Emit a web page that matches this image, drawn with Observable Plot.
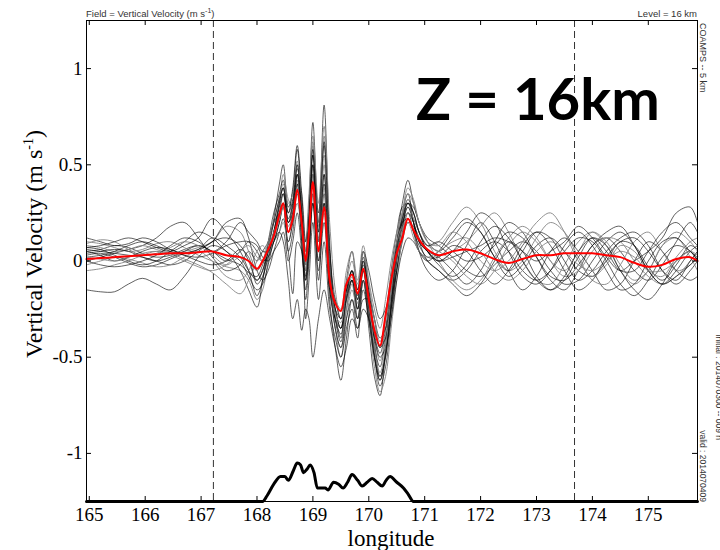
<!DOCTYPE html>
<html><head><meta charset="utf-8">
<script src="https://cdn.jsdelivr.net/npm/d3@7"></script>
<script src="https://cdn.jsdelivr.net/npm/@observablehq/plot@0.6"></script>
<style>
body{margin:0;background:#fff}
#chart{position:relative;width:720px;height:550px;overflow:hidden;background:#fff}
</style>
</head><body><div id="chart"></div>
<script>
// longitude grid shared by all series
const lon = [
  164.95, 165.2, 165.45, 165.7, 165.95, 166.2, 166.45, 166.7, 166.95, 167.2, 167.45, 167.7,
  167.85, 168.0, 168.1, 168.2, 168.3, 168.4, 168.47, 168.56, 168.64, 168.72, 168.8, 168.87, 168.93, 169.0, 169.1, 169.2, 169.3, 169.4, 169.5, 169.6, 169.7, 169.8, 169.9, 170.0, 170.1, 170.2, 170.3, 170.4, 170.5, 170.6, 170.7, 170.8, 170.9, 171.05,
  171.25, 171.5, 171.75, 172.0, 172.25, 172.5, 172.75, 173.0, 173.25, 173.5, 173.75, 174.0, 174.25, 174.5, 174.75, 175.0, 175.25, 175.5, 175.75, 175.88
];
// ensemble members (vertical velocity, m/s)
const m01 = [0.05,0.06,0.08,0.07,0.04,0.02,0.03,0.06,0.08,0.05,0.01,-0.02,
  -0.06,-0.08,-0.02,0.08,0.22,0.4,0.5,0.28,0.36,0.58,0.3,0.05,0.3,0.72,0.2,0.81,0.1,-0.3,-0.42,-0.25,-0.1,-0.3,-0.1,-0.35,-0.6,-0.7,-0.45,-0.15,0.1,0.3,0.42,0.3,0.2,0.1,
  0.05,0.12,0.2,0.15,0.02,-0.08,-0.02,0.08,0.12,0.05,-0.05,-0.08,0.0,0.1,0.08,-0.03,-0.1,-0.02,0.08,0.06];
const m02 = [0.1,0.09,0.07,0.05,0.06,0.09,0.1,0.07,0.03,0.0,-0.03,-0.05,
  -0.1,-0.2,-0.15,0.0,0.15,0.3,0.38,0.2,0.3,0.5,0.25,-0.05,0.2,0.6,0.15,0.55,-0.05,-0.35,-0.5,-0.3,-0.15,-0.25,0.0,-0.25,-0.5,-0.6,-0.5,-0.25,0.0,0.2,0.3,0.25,0.15,0.05,
  0.0,0.05,0.1,0.18,0.25,0.15,0.0,-0.1,-0.12,-0.02,0.1,0.15,0.08,-0.05,-0.12,-0.05,0.08,0.15,0.1,0.05];
const m03 = [-0.15,-0.16,-0.16,-0.12,-0.09,-0.12,-0.15,-0.08,0.02,0.08,0.05,-0.05,
  -0.15,-0.24,-0.1,0.05,0.1,0.2,0.3,0.05,0.15,0.4,0.1,-0.2,0.0,0.35,-0.1,0.3,-0.2,-0.45,-0.62,-0.4,-0.2,-0.35,-0.15,-0.3,-0.45,-0.55,-0.4,-0.2,0.05,0.25,0.35,0.2,0.05,-0.05,
  -0.1,-0.05,0.08,0.2,0.1,-0.05,-0.15,-0.08,0.05,0.12,0.05,-0.05,-0.15,-0.12,0.0,0.1,0.05,-0.05,-0.1,-0.08];
const m04 = [0.0,0.02,0.04,0.06,0.08,0.12,0.18,0.2,0.12,0.02,-0.05,-0.02,
  0.05,0.0,0.05,0.1,0.2,0.25,0.3,0.15,0.25,0.4,0.2,-0.1,0.1,0.45,0.05,0.35,-0.15,-0.3,-0.35,-0.1,0.05,-0.15,0.05,-0.15,-0.35,-0.45,-0.3,-0.05,0.15,0.28,0.3,0.2,0.1,0.05,
  0.02,-0.05,-0.12,-0.05,0.1,0.2,0.15,0.02,-0.1,-0.15,-0.05,0.08,0.12,0.05,-0.05,-0.1,-0.02,0.1,0.2,0.15];
const m05 = [0.08,0.07,0.05,0.06,0.08,0.06,0.04,0.05,0.07,0.1,0.18,0.15,
  0.05,-0.05,0.0,0.05,0.12,0.3,0.45,0.32,0.28,0.45,0.35,0.1,0.35,0.65,0.3,0.7,0.2,-0.15,-0.3,-0.2,-0.05,-0.2,0.0,-0.2,-0.4,-0.52,-0.38,-0.12,0.08,0.2,0.28,0.22,0.15,0.08,
  0.1,0.2,0.28,0.2,0.05,-0.05,0.0,0.12,0.2,0.15,0.02,-0.1,-0.12,-0.02,0.1,0.15,0.05,-0.05,-0.02,0.02];
const m06 = [0.03,0.04,0.02,-0.01,-0.03,-0.02,0.01,0.04,0.06,0.1,0.2,0.22,
  0.12,-0.05,-0.1,-0.05,0.05,0.15,0.22,0.05,-0.17,0.1,0.05,-0.3,-0.1,0.2,-0.2,0.1,-0.25,-0.4,-0.5,-0.35,-0.25,-0.4,-0.2,-0.2,-0.3,-0.4,-0.35,-0.2,-0.05,0.1,0.2,0.18,0.1,0.0,
  -0.05,-0.1,-0.05,0.05,0.1,0.05,-0.05,-0.1,-0.05,0.05,0.12,0.1,0.0,-0.12,-0.18,-0.1,0.02,0.08,0.05,0.0];
const m07 = [0.06,0.05,0.04,0.03,0.02,0.0,-0.02,0.0,0.05,0.1,0.12,0.08,
  0.0,-0.1,-0.05,0.05,0.15,0.28,0.35,0.22,0.3,0.48,0.3,0.0,0.25,0.55,0.1,0.45,0.0,-0.25,-0.35,-0.15,-0.05,-0.25,-0.05,-0.3,-0.5,-0.65,-0.55,-0.3,-0.05,0.15,0.3,0.28,0.2,0.12,
  0.08,0.02,-0.05,-0.08,-0.02,0.05,0.1,0.05,-0.05,-0.12,-0.1,0.0,0.1,0.15,0.08,-0.05,-0.12,-0.05,0.05,0.08];
const m08 = [-0.05,-0.04,-0.02,0.0,0.03,0.05,0.04,0.01,-0.02,-0.06,-0.12,-0.17,
  -0.1,0.0,0.05,0.05,0.1,0.15,0.2,0.1,0.2,0.3,0.15,-0.05,0.15,0.4,0.0,0.25,-0.1,-0.2,-0.25,-0.05,0.05,-0.1,0.08,-0.1,-0.25,-0.35,-0.2,0.0,0.15,0.25,0.35,0.3,0.2,0.1,
  0.0,-0.1,-0.15,-0.1,0.02,0.12,0.18,0.12,0.0,-0.08,-0.05,0.05,0.12,0.1,0.0,-0.08,-0.12,-0.08,0.0,0.05];
const m09 = [0.12,0.1,0.08,0.09,0.12,0.1,0.06,0.04,0.06,0.12,0.08,0.02,
  -0.05,-0.1,-0.05,0.1,0.25,0.35,0.42,0.25,0.38,0.6,0.35,0.1,0.25,0.55,0.25,0.6,0.05,-0.2,-0.3,-0.15,-0.1,-0.2,-0.02,-0.2,-0.42,-0.6,-0.48,-0.2,0.05,0.2,0.25,0.15,0.05,0.0,
  0.05,0.15,0.22,0.15,0.02,-0.05,0.05,0.15,0.12,0.0,-0.1,-0.05,0.05,0.12,0.15,0.08,-0.05,-0.12,-0.05,0.0];
const m10 = [0.02,0.03,0.05,0.08,0.1,0.08,0.05,0.03,0.02,0.04,0.08,0.1,
  0.1,0.05,0.0,0.02,0.1,0.2,0.28,0.1,0.2,0.35,0.1,-0.15,0.05,0.3,-0.05,0.2,-0.15,-0.3,-0.4,-0.2,-0.1,-0.2,0.0,-0.15,-0.3,-0.45,-0.4,-0.25,-0.05,0.12,0.25,0.2,0.1,0.05,
  0.0,0.02,0.05,0.08,0.12,0.1,0.05,0.0,0.05,0.1,0.18,0.12,0.02,-0.05,0.0,0.05,0.12,0.25,0.28,0.2];
const m11 = [-0.02,0.0,0.02,0.01,-0.01,-0.03,-0.02,0.02,0.05,0.0,-0.08,-0.1,
  -0.05,0.05,0.08,0.05,0.12,0.22,0.3,0.18,0.25,0.42,0.2,-0.05,0.15,0.45,0.12,0.5,-0.05,-0.35,-0.45,-0.25,-0.12,-0.3,-0.1,-0.28,-0.55,-0.68,-0.6,-0.35,-0.1,0.12,0.25,0.22,0.15,0.08,
  0.05,0.0,-0.08,-0.12,-0.05,0.08,0.15,0.1,0.0,-0.05,0.05,0.15,0.1,-0.02,-0.1,-0.05,0.08,0.12,0.02,-0.05];
const m12 = [0.07,0.06,0.03,0.0,-0.02,0.0,0.05,0.1,0.15,0.12,0.05,0.0,
  -0.08,-0.15,-0.12,-0.02,0.1,0.15,0.1,-0.1,-0.3,-0.2,-0.36,-0.25,-0.3,-0.5,-0.3,-0.15,-0.3,-0.45,-0.55,-0.45,-0.3,-0.35,-0.25,-0.3,-0.4,-0.5,-0.45,-0.3,-0.1,0.05,0.12,0.1,0.05,0.0,
  -0.05,-0.12,-0.18,-0.12,0.0,0.1,0.05,-0.08,-0.15,-0.1,0.02,0.12,0.08,-0.05,-0.15,-0.2,-0.12,0.0,0.05,0.0];
const m13 = [0.04,0.05,0.06,0.05,0.02,0.0,0.02,0.05,0.08,0.05,0.0,0.05,
  0.1,0.08,0.02,0.0,0.05,0.1,0.15,0.0,0.1,0.25,0.05,-0.1,0.05,0.3,0.0,0.3,-0.1,-0.25,-0.3,-0.15,-0.05,-0.15,0.05,-0.05,-0.2,-0.3,-0.25,-0.1,0.08,0.2,0.22,0.15,0.08,0.02,
  0.02,0.08,0.05,-0.05,-0.12,-0.05,0.08,0.15,0.08,-0.05,-0.15,-0.1,0.02,0.1,0.12,0.05,-0.05,-0.1,0.0,0.05];
const m14 = [0.09,0.11,0.1,0.06,0.03,0.04,0.07,0.1,0.08,0.03,-0.02,0.02,
  0.0,-0.05,0.0,0.1,0.2,0.33,0.4,0.3,0.35,0.52,0.28,0.05,0.3,0.62,0.18,0.65,0.0,-0.28,-0.4,-0.2,-0.08,-0.22,-0.05,-0.22,-0.45,-0.58,-0.45,-0.18,0.05,0.25,0.38,0.32,0.2,0.1,
  0.08,0.15,0.1,0.0,-0.05,0.0,0.1,0.2,0.25,0.15,0.0,-0.08,-0.02,0.08,0.05,-0.05,-0.08,0.02,0.1,0.12];
const m15 = [0.0,-0.02,-0.03,-0.02,0.0,0.03,0.08,0.12,0.1,0.05,0.1,0.2,
  0.15,0.1,0.05,0.05,0.15,0.25,0.35,0.2,0.28,0.45,0.25,0.02,0.2,0.5,0.1,0.4,-0.05,-0.3,-0.38,-0.18,-0.05,-0.18,0.02,-0.18,-0.38,-0.48,-0.35,-0.1,0.1,0.22,0.3,0.25,0.15,0.05,
  -0.02,-0.08,-0.02,0.1,0.18,0.12,0.0,-0.1,-0.15,-0.08,0.05,0.12,0.05,-0.05,-0.05,0.05,0.15,0.2,0.12,0.08];
const m16 = [0.05,0.03,0.0,0.02,0.05,0.07,0.06,0.03,0.0,-0.02,0.0,0.06,
  0.02,-0.12,-0.08,0.02,0.15,0.3,0.38,0.25,0.32,0.5,0.25,-0.02,0.22,0.58,0.15,0.62,0.05,-0.25,-0.35,-0.2,-0.1,-0.25,-0.05,-0.25,-0.48,-0.62,-0.5,-0.22,0.05,0.22,0.32,0.25,0.15,0.08,
  0.1,0.05,0.0,0.02,0.08,0.15,0.12,0.02,-0.08,-0.1,-0.02,0.08,0.15,0.18,0.08,-0.05,-0.12,-0.08,-0.02,0.02];
const m17 = [0.02,0.01,0.0,0.02,0.04,0.05,0.03,0.0,-0.03,-0.05,-0.02,0.05,
  0.08,0.02,0.0,0.05,0.15,0.22,0.28,0.15,0.22,0.38,0.18,-0.02,0.15,0.42,0.1,0.38,-0.08,-0.28,-0.32,-0.12,0.0,-0.12,0.05,-0.12,-0.3,-0.42,-0.3,-0.08,0.1,0.18,0.2,0.12,0.05,0.02,
  0.05,0.1,0.12,0.05,-0.05,-0.1,-0.05,0.05,0.1,0.05,-0.02,-0.05,0.0,0.05,0.02,-0.05,-0.05,0.0,0.05,0.03];
const m18 = [0.07,0.08,0.1,0.12,0.1,0.07,0.05,0.08,0.12,0.22,0.15,0.05,
  -0.05,-0.18,-0.1,0.05,0.2,0.32,0.38,0.2,0.25,0.45,0.2,-0.08,0.1,0.5,0.05,0.45,-0.1,-0.35,-0.45,-0.3,-0.2,-0.3,-0.1,-0.3,-0.5,-0.62,-0.48,-0.25,0.0,0.18,0.28,0.2,0.12,0.05,
  0.0,0.05,0.15,0.25,0.2,0.05,-0.08,-0.12,-0.05,0.08,0.15,0.08,-0.05,-0.15,-0.12,0.0,0.1,0.12,0.05,0.02];
// ensemble mean (red)
const meanW = [0.01,0.015,0.02,0.025,0.03,0.035,0.04,0.04,0.045,0.05,0.03,0.02,
  0.0,-0.04,0.0,0.06,0.13,0.24,0.30,0.15,0.22,0.37,0.2,0.0,0.15,0.41,0.05,0.28,-0.1,-0.22,-0.26,-0.12,-0.07,-0.17,-0.04,-0.2,-0.36,-0.44,-0.28,-0.1,0.04,0.12,0.22,0.16,0.11,0.06,
  0.03,0.05,0.06,0.04,0.01,-0.01,0.01,0.03,0.03,0.04,0.04,0.04,0.03,0.02,-0.01,-0.03,-0.02,0.01,0.02,0.0];
// terrain profile (drawn on the velocity axis)
const terrLon = [164.95,168.1,168.18,168.3,168.42,168.5,168.56,168.65,168.72,168.78,168.83,168.9,168.95,169.02,169.08,169.15,169.22,169.27,169.37,169.46,169.54,169.62,169.7,169.8,169.88,169.97,170.06,170.15,170.24,170.31,170.38,170.5,170.62,170.7,170.8,175.88];
const terrW = [-1.25,-1.25,-1.22,-1.16,-1.12,-1.12,-1.14,-1.09,-1.05,-1.06,-1.1,-1.08,-1.06,-1.1,-1.18,-1.18,-1.18,-1.19,-1.15,-1.16,-1.18,-1.15,-1.11,-1.14,-1.17,-1.15,-1.13,-1.15,-1.17,-1.14,-1.12,-1.15,-1.18,-1.21,-1.25,-1.25];
const dashedLon = [167.22, 173.68];
const xTicks = [165,166,167,168,169,170,171,172,173,174,175];
const yTicks = [-1,-0.5,0,0.5,1];

const members = [m01,m02,m03,m04,m05,m06,m07,m08,m09,m10,m11,m12,m13,m14,m15,m16,m17,m18];
members.forEach((m,i)=>{ if (m.length !== lon.length) throw new Error("member "+(i+1)+" has "+m.length); });
if (meanW.length !== lon.length) throw new Error("mean length");
const memberRows = members.flatMap((vals,k)=>vals.map((w,i)=>({k, lon: lon[i], w})));
const meanRows = meanW.map((w,i)=>({lon: lon[i], w}));
const terrRows = terrLon.map((x,i)=>({lon: x, w: terrW[i]}));

const W = 720, H = 550, mL = 86, mR = 23, mT = 20, mB = 49;
const iw = W - mL - mR, ih = H - mT - mB, tk = 5;

const chart = Plot.plot({
  width: W, height: H,
  marginLeft: mL, marginRight: mR, marginTop: mT, marginBottom: mB,
  style: {fontFamily: "'Liberation Serif', 'Times New Roman', serif", background: "#fff", color: "#000"},
  x: {domain: [164.95, 175.88]},
  y: {domain: [-1.25, 1.25]},
  marks: [
    Plot.ruleX(dashedLon, {x: d=>d, stroke: "#333", strokeDasharray: "7,4", strokeWidth: 1}),
    Plot.line(memberRows, {x: "lon", y: "w", z: "k",
      stroke: d => (d.k % 3 === 1 ? "#858585" : "#000"),
      strokeOpacity: d => (d.k % 3 === 1 ? 0.9 : 0.62),
      strokeWidth: 1, curve: "catmull-rom"}),
    Plot.line(meanRows, {x: "lon", y: "w", stroke: "#ff0000", strokeWidth: 2, curve: "catmull-rom"}),
    Plot.line(terrRows, {x: "lon", y: "w", stroke: "#000", strokeWidth: 3, strokeLinejoin: "round", curve: "monotone-x"}),
    Plot.frame({stroke: "#000", strokeWidth: 1}),
    Plot.tickX(xTicks, {x: d=>d, insetTop: ih - tk, stroke: "#000"}),
    Plot.tickX(xTicks, {x: d=>d, insetBottom: ih - tk, stroke: "#000"}),
    Plot.tickY(yTicks, {y: d=>d, insetRight: iw - tk, stroke: "#000"}),
    Plot.tickY(yTicks, {y: d=>d, insetLeft: iw - tk, stroke: "#000"}),
    Plot.axisX(xTicks, {tickSize: 0, tickPadding: 6, fontSize: 19, label: null, tickFormat: d => String(d)}),
    Plot.axisY(yTicks, {tickSize: 0, tickPadding: 4, fontSize: 19, label: null, tickFormat: d => String(d)})
  ]
});
document.getElementById("chart").appendChild(chart);

const svg = d3.select(chart);
const serif = "'Liberation Serif', 'Times New Roman', serif";
const sans = "'Liberation Sans', Arial, sans-serif";

// x-axis title
svg.append("text").attr("x", 391).attr("y", 546).attr("text-anchor", "middle")
  .style("font-family", serif).style("font-size", "23px").attr("fill", "#000").text("longitude");

// y-axis title with superscript
const yt = svg.append("text")
  .attr("transform", "translate(42,244) rotate(-90)")
  .attr("text-anchor", "middle")
  .style("font-family", serif)
  .style("font-size", "24px").attr("fill", "#000");
yt.append("tspan").text("Vertical Velocity (m s");
yt.append("tspan").attr("dy", -9).style("font-size", "14px").text("-1");
yt.append("tspan").attr("dy", 9).text(")");

const hdr = svg.append("text").attr("x", 86).attr("y", 17).attr("text-anchor", "start")
  .style("font-family", sans).style("font-size", "9.5px").attr("fill", "#333");
hdr.append("tspan").text("Field = Vertical Velocity (m s");
hdr.append("tspan").attr("dy", -4).style("font-size", "7px").text("-1");
hdr.append("tspan").attr("dy", 4).text(")");

svg.append("text").attr("x", 697).attr("y", 17).attr("text-anchor", "end")
  .style("font-family", sans).style("font-size", "9.5px").attr("fill", "#333").text("Level = 16 km");

svg.append("text").attr("transform", "translate(700,23) rotate(90)").attr("text-anchor", "start")
  .style("font-family", sans).style("font-size", "9px").attr("fill", "#333").text("COAMPS -- 5 km");
svg.append("text").attr("transform", "translate(700,502) rotate(90)").attr("text-anchor", "end")
  .style("font-family", sans).style("font-size", "8.5px").attr("fill", "#333").text("valid : 2014070409");
svg.append("text").attr("transform", "translate(716,440) rotate(90)").attr("text-anchor", "end")
  .style("font-family", sans).style("font-size", "8.5px").attr("fill", "#333").text("initial : 2014070300 -- 009 h");

svg.append("text").attr("x", 416).attr("y", 120).attr("text-anchor", "start")
  .style("font-family", "Lato, 'Liberation Sans', sans-serif").style("font-weight", "bold")
  .style("font-size", "58px").attr("fill", "#000").text("Z = 16km");
</script>
</body></html>
